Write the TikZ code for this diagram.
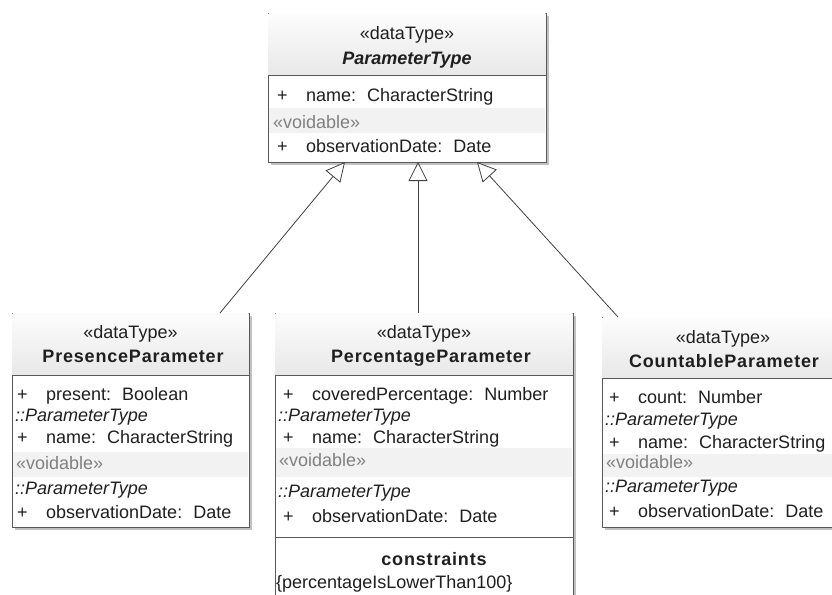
\documentclass[tikz,border=0pt]{standalone}
\usepackage{fontspec}
\setmainfont{Liberation Sans}
\usetikzlibrary{arrows.meta,shadows}
\newcommand\umlattr[2]{\hspace{3pt}\makebox[29pt][l]{+}#1:\hspace{11pt}#2}
\begin{document}
\begin{tikzpicture}[x=1pt,y=-1pt]
\tikzset{
 umlbox/.style={draw=black!65, line width=0.9pt, fill=white, anchor=north west, inner sep=0pt, outer sep=0pt,
   drop shadow={shadow xshift=3pt, shadow yshift=-3pt, fill=black!40, opacity=0.6}},
 hdr/.style={top color=black!1, bottom color=black!9, draw=none},
 lbl/.style={inner sep=0pt, anchor=base west, font=\fontsize{18}{21}\selectfont, text=black!88},
 ctr/.style={inner sep=0pt, anchor=base, font=\fontsize{18}{21}\selectfont, text=black!88},
 cname/.style={ctr, font=\fontsize{18}{21}\selectfont\bfseries\addfontfeatures{LetterSpace=4.5}},
 itl/.style={lbl, font=\fontsize{18}{21}\selectfont\itshape},
 vd/.style={lbl, text=black!50},
 band/.style={fill=black!5, draw=none},
 divider/.style={draw=black!65, line width=0.9pt},
 inherit/.style={draw=black!75, line width=0.8pt, -{Triangle[open, length=19pt, width=19pt, fill=white]}}
}
\useasboundingbox (0,0) rectangle (832,594);
\clip (0,0) rectangle (832,594);
\fill[white] (0,0) rectangle (832,594);

% ---------- ParameterType ----------
\node[umlbox, minimum width=278pt, minimum height=149pt] (ptype) at (268,13) {};
\fill[hdr] (268.5,13.5) rectangle (545.5,75);
\fill[band] (269,108) rectangle (545,133);
\draw[divider] (268,75) -- (546,75);
\node[ctr] (ptS) at (407,40) {«dataType»};
\node[ctr, font=\fontsize{18}{21}\selectfont\bfseries\itshape] (ptN) at (407,64) {ParameterType};
\node[lbl] (pt1) at (274,101) {\umlattr{name}{CharacterString}};
\node[vd] (ptV) at (273,128) {«voidable»};
\node[lbl] (pt2) at (274,152) {\umlattr{observationDate}{Date}};

% ---------- PresenceParameter ----------
\node[umlbox, minimum width=237pt, minimum height=214pt] (pres) at (12,313) {};
\fill[hdr] (12.5,313.5) rectangle (248.5,375);
\fill[band] (13,452) rectangle (248,477);
\draw[divider] (12,375) -- (249,375);
\node[ctr] (prS) at (130.5,338) {«dataType»};
\node[cname] (prN) at (133,362) {PresenceParameter};
\node[lbl] (pr1) at (14,400) {\umlattr{present}{Boolean}};
\node[itl] (pr2) at (15,421) {::ParameterType};
\node[lbl] (pr3) at (14,443) {\umlattr{name}{CharacterString}};
\node[vd] (prV) at (16,469) {«voidable»};
\node[itl] (pr4) at (15,494) {::ParameterType};
\node[lbl] (pr5) at (14,518) {\umlattr{observationDate}{Date}};

% ---------- PercentageParameter ----------
\node[umlbox, minimum width=298pt, minimum height=300pt] (perc) at (275,313) {};
\fill[hdr] (275.5,313.5) rectangle (572.5,375);
\fill[band] (276,448) rectangle (572,477);
\draw[divider] (275,375) -- (573,375);
\draw[divider] (275,537) -- (573,537);
\node[ctr] (peS) at (424,338) {«dataType»};
\node[cname] (peN) at (431,362) {PercentageParameter};
\node[lbl] (pe1) at (280,400) {\umlattr{coveredPercentage}{Number}};
\node[itl] (pe2) at (278,421) {::ParameterType};
\node[lbl] (pe3) at (280,443) {\umlattr{name}{CharacterString}};
\node[vd] (peV) at (279,466) {«voidable»};
\node[itl] (pe4) at (278,497) {::ParameterType};
\node[lbl] (pe5) at (280,522) {\umlattr{observationDate}{Date}};
\node[cname] (peC) at (434,565) {constraints};
\node[lbl] (peK) at (276,588) {\{percentageIsLowerThan100\}};

% ---------- CountableParameter ----------
\node[umlbox, minimum width=240pt, minimum height=210pt] (count) at (602,317) {};
\fill[hdr] (602.5,317.5) rectangle (841.5,378);
\fill[band] (603,454) rectangle (841,477);
\draw[divider] (602,378) -- (842,378);
\node[ctr] (coS) at (723,343) {«dataType»};
\node[cname] (coN) at (724,367) {CountableParameter};
\node[lbl] (co1) at (606,403) {\umlattr{count}{Number}};
\node[itl] (co2) at (605,425) {::ParameterType};
\node[lbl] (co3) at (606,448) {\umlattr{name}{CharacterString}};
\node[vd] (coV) at (606,468) {«voidable»};
\node[itl] (co4) at (605,492) {::ParameterType};
\node[lbl] (co5) at (606,517) {\umlattr{observationDate}{Date}};

% ---------- generalisations ----------
\coordinate (tL) at (345,162);
\coordinate (tM) at (418,162);
\coordinate (tR) at (477,162);
\coordinate (bL) at (220,313);
\coordinate (bM) at (418,313);
\coordinate (bR) at (618,317);
\draw[inherit] (bL) -- (tL);
\draw[inherit] (bM) -- (tM);
\draw[inherit] (bR) -- (tR);
\end{tikzpicture}
\end{document}
